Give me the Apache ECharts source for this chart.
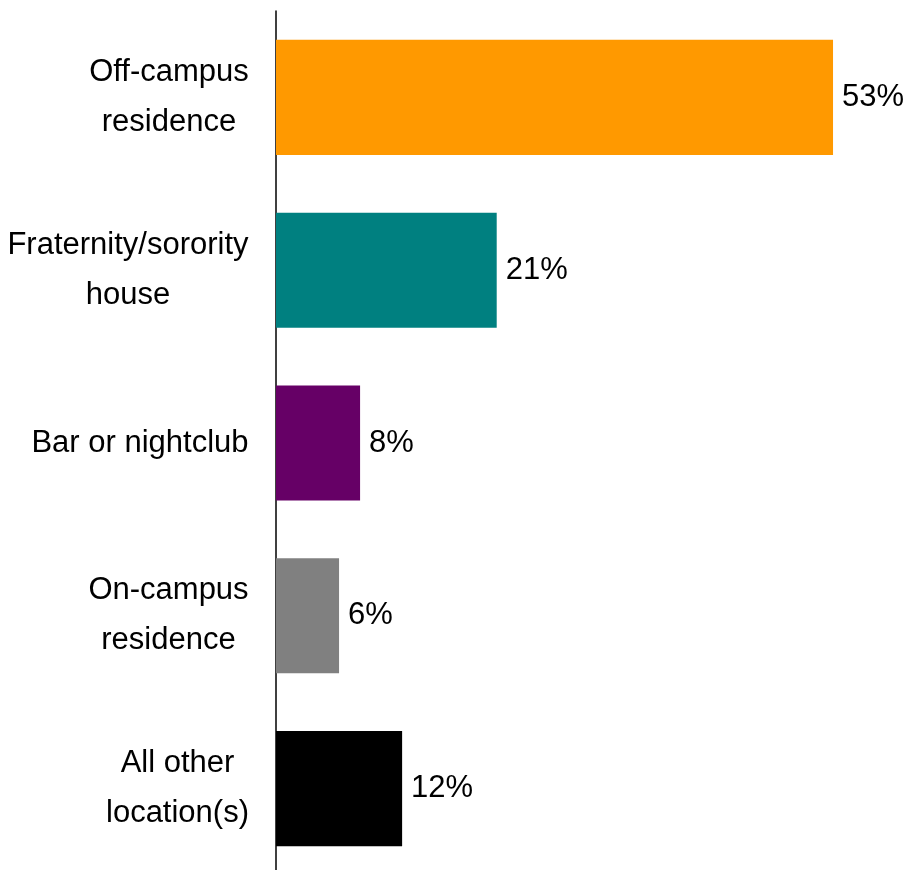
<!DOCTYPE html>
<html>
<head>
<meta charset="utf-8">
<script src="https://cdn.jsdelivr.net/npm/echarts@6/dist/echarts.min.js"></script>
<style>
html,body{margin:0;padding:0;background:#fff;}
#chart{width:908px;height:870px;}
</style>
</head>
<body>
<div id="chart"></div>
<script>
const categories = ['Off-campus\nresidence', 'Fraternity/sorority\nhouse', 'Bar or nightclub', 'On-campus\nresidence', 'All other\nlocation(s)'];
const values = [53, 21, 8, 6, 12];
const colors = ['#FF9900', '#008080', '#660066', '#808080', '#000000'];

const FONT = '"Liberation Sans Narrow", "Arial Narrow", "Liberation Sans", Arial, sans-serif';
const FS = 31;

// measure widest line per category to center lines within the block
const ctx = document.createElement('canvas').getContext('2d');
ctx.font = FS + 'px ' + FONT;
const rich = {};
categories.forEach((c, i) => {
  const w = Math.max(...c.split('\n').map(s => ctx.measureText(s).width));
  rich['w' + i] = { width: Math.ceil(w), align: 'center', fontSize: FS, fontFamily: FONT, lineHeight: 50, color: '#000' };
});

const chart = echarts.init(document.getElementById('chart'), null, { renderer: 'canvas' });
chart.setOption({
  animation: false,
  backgroundColor: '#fff',
  grid: { left: 276, top: 11, width: 630.6, height: 864, containLabel: false, outerBoundsMode: 'none' },
  xAxis: { type: 'value', min: 0, max: 60, show: false },
  yAxis: {
    type: 'category',
    inverse: true,
    data: categories,
    axisLine: { show: true, lineStyle: { color: '#000', width: 1.5 } },
    axisTick: { show: false },
    axisLabel: {
      margin: 27,
      fontSize: FS,
      fontFamily: FONT,
      color: '#000',
      lineHeight: 50,
      formatter: function (v, idx) {
        return v.split('\n').map(s => '{w' + idx + '|' + s + '}').join('\n');
      },
      rich: rich
    }
  },
  series: [{
    type: 'bar',
    barCategoryGap: '33.4%',
    data: values.map((v, i) => ({ value: v, itemStyle: { color: colors[i] } })),
    label: {
      show: true,
      position: 'right',
      distance: 9,
      formatter: '{c}%',
      fontSize: FS,
      fontFamily: FONT,
      color: '#000'
    }
  }]
});
</script>
</body>
</html>
